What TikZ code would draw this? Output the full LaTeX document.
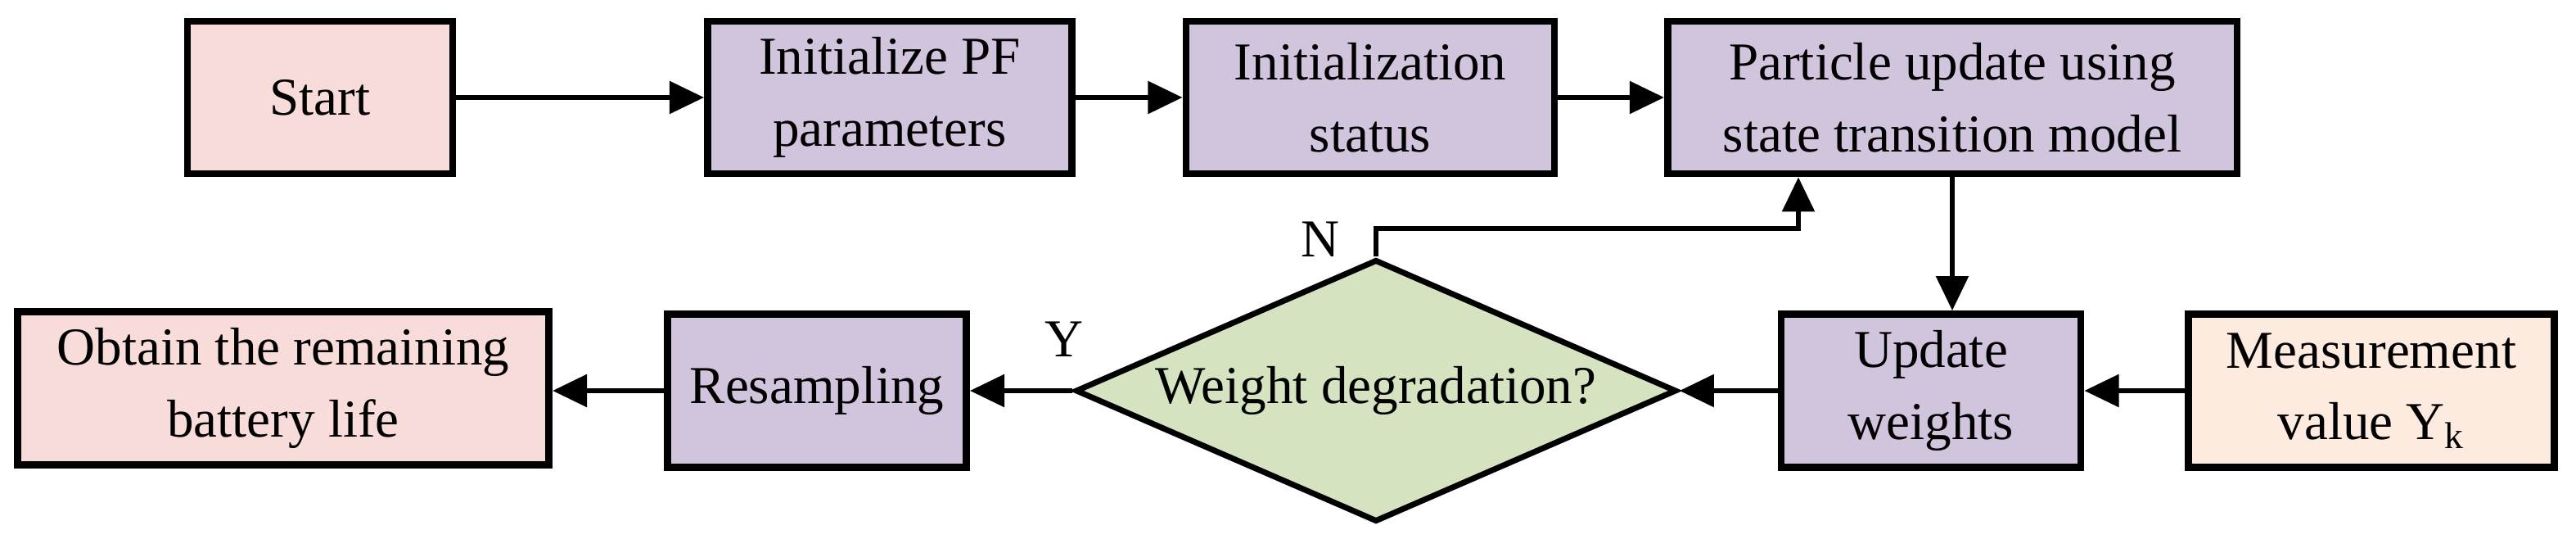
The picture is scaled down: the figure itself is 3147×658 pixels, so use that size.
\documentclass[tikz,border=0pt]{standalone}
\usepackage{fontspec}
\setmainfont{Liberation Serif}
\usetikzlibrary{shapes.geometric,arrows.meta}
\definecolor{cpink}{HTML}{F8DCDA}
\definecolor{cpurp}{HTML}{D1C4DD}
\definecolor{cgreen}{HTML}{D5E3C0}
\definecolor{cpeach}{HTML}{FDEBDF}
\begin{document}
\begin{tikzpicture}[x=0.01cm,y=-0.01cm,
  box/.style={draw,line width=2.4pt,align=center,inner sep=0pt,font=\fontsize{18.5}{25}\selectfont},
  arr/.style={line width=1.9pt,-{Triangle[length=12pt,width=11pt]}},
  lab/.style={font=\fontsize{18.5}{22}\selectfont}]
\useasboundingbox (0,0) rectangle (3147,658);
\node[box,fill=cpink,minimum width=3.24cm,minimum height=1.86cm] (start) at (391,119) {Start};
\node[box,fill=cpurp,minimum width=4.45cm,minimum height=1.86cm] (ipf) at (1087,119) {Initialize PF\\parameters};
\node[box,fill=cpurp,minimum width=4.5cm,minimum height=1.86cm] (ist) at (1674,119) {Initialization\\status};
\node[box,fill=cpurp,minimum width=6.95cm,minimum height=1.86cm] (pu) at (2385,119) {Particle update using\\state transition model};
\node[box,fill=cpeach,minimum width=4.47cm,minimum height=1.87cm] (meas) at (2897,477) {Measurement\\value Y$_\mathrm{k}$};
\node[box,fill=cpurp,minimum width=3.66cm,minimum height=1.87cm] (uw) at (2359,477) {Update\\weights};
\node[draw,line width=2pt,fill=cgreen,diamond,aspect=2.2,inner sep=0pt,minimum width=7.34cm,minimum height=3.2cm,font=\fontsize{18.5}{22}\selectfont] (dg) at (1681,477) {Weight degradation?};
\node[box,fill=cpurp,minimum width=3.65cm,minimum height=1.87cm] (rs) at (998,477) {Resampling};
\node[box,fill=cpink,minimum width=6.49cm,minimum height=1.87cm] (ob) at (346,474) {Obtain the remaining\\battery life};
\draw[arr] (start) -- (ipf);
\draw[arr] (ipf) -- (ist);
\draw[arr] (ist) -- (pu);
\draw[arr] (pu.south) -- (uw.north -| pu.south);
\draw[arr] (meas) -- (uw);
\draw[arr] (uw.west) -- (dg.east);
\draw[arr] (dg.west) -- (rs.east |- dg.west);
\draw[arr] (rs.west) -- (ob.east |- rs.west);
\coordinate (nk) at (2197,279);
\draw[arr] (dg.north) |- (nk) -- (nk |- pu.south);
\node[lab] (nl) at (1613,292) {N};
\node[lab] (yl) at (1300,414) {Y};
\end{tikzpicture}
\end{document}
